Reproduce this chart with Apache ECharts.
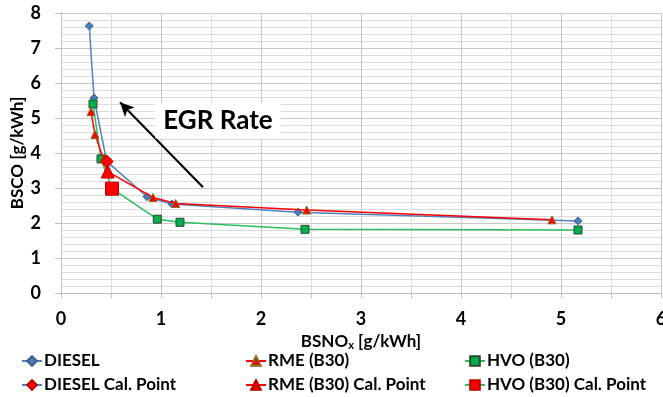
<!DOCTYPE html>
<html><head><meta charset="utf-8">
<script src="https://cdn.jsdelivr.net/npm/echarts@6/dist/echarts.min.js"></script>
<style>html,body{margin:0;padding:0;background:#fff}#c{width:663px;height:397px}</style>
</head><body><div id="c"></div>
<script>
const dieselX = [0.283, 0.33, 0.457, 0.86, 1.11, 2.37, 5.17];
const dieselY = [7.63, 5.57, 3.76, 2.75, 2.54, 2.31, 2.06];
const rmeX = [0.30, 0.34, 0.467, 0.92, 1.147, 2.457, 4.91];
const rmeY = [5.18, 4.53, 3.47, 2.73, 2.56, 2.37, 2.09];
const hvoX = [0.32, 0.40, 0.51, 0.963, 1.19, 2.44, 5.17];
const hvoY = [5.40, 3.83, 2.98, 2.11, 2.02, 1.82, 1.80];
const dieselCal = [0.457, 3.76];
const rmeCal = [0.467, 3.47];
const hvoCal = [0.51, 2.98];
const arrowFrom = [1.42, 3.02];
const arrowTo = [0.59, 5.45];
const egrLabelAt = [1.57, 4.93];
const seriesNames = ['DIESEL','DIESEL Cal. Point','RME (B30)','RME (B30) Cal. Point','HVO (B30)','HVO (B30) Cal. Point'];

const zip = (xs, ys) => xs.map((x, i) => [x, ys[i]]);
const FONT = 'Lato';
const BLUE = '#4F81BD', RED = '#FF0000', GREEN = '#2EBD5A';

const chart = echarts.init(document.getElementById('c'));
const legendBase = {
  orient: 'vertical', top: 351, itemWidth: 20, itemHeight: 12, itemGap: 4,
  textStyle: { fontFamily: FONT, fontWeight: 'bold', fontSize: 17, color: '#000', lineHeight: 20, padding: [0,0,0,-3] },
  padding: 0
};
chart.setOption({
  animation: false,
  grid: { left: 61, right: 2, top: 13, bottom: 104, containLabel: false, outerBoundsMode: 'none' },
  legend: [
    Object.assign({}, legendBase, { left: 21, data: [seriesNames[0], seriesNames[1]] }),
    Object.assign({}, legendBase, { left: 245, data: [seriesNames[2], seriesNames[3]] }),
    Object.assign({}, legendBase, { left: 464, data: [seriesNames[4], seriesNames[5]] })
  ],
  xAxis: {
    type: 'value', min: 0, max: 6, interval: 1,
    name: '{a|BSNO}{s|x}{a| [g/kWh]}', nameLocation: 'middle', nameGap: 39, nameMoveOverlap: false,
    nameTextStyle: { rich: {
      a: { fontFamily: FONT, fontWeight: 'bold', fontSize: 17, color: '#000' },
      s: { fontFamily: FONT, fontWeight: 'bold', fontSize: 11, color: '#000', padding: [8,0,0,0] }
    } },
    axisLine: { show: true, lineStyle: { color: '#BFBFBF' } },
    axisTick: { show: true, length: 5, lineStyle: { color: '#BFBFBF' } },
    minorTick: { show: true, splitNumber: 2, length: 5, lineStyle: { color: '#BFBFBF' } },
    axisLabel: { fontFamily: FONT, fontWeight: 'bold', fontSize: 18, color: '#000', margin: 17 },
    splitLine: { show: true, lineStyle: { color: '#C8C8C8' } },
    minorSplitLine: { show: true, lineStyle: { color: '#DCDCDC' } }
  },
  yAxis: {
    type: 'value', min: 0, max: 8, interval: 1,
    name: 'BSCO [g/kWh]', nameLocation: 'middle', nameGap: 35, nameMoveOverlap: false,
    nameTextStyle: { fontFamily: FONT, fontWeight: 'bold', fontSize: 17, color: '#000' },
    axisLine: { show: true, lineStyle: { color: '#BFBFBF' } },
    axisTick: { show: true, length: 6, lineStyle: { color: '#BFBFBF' } },
    axisLabel: { fontFamily: FONT, fontWeight: 'bold', fontSize: 18, color: '#000', margin: 20 },
    splitLine: { show: true, lineStyle: { color: '#C8C8C8' } },
    minorTick: { show: false, splitNumber: 5 },
    minorSplitLine: { show: true, lineStyle: { color: '#DCDCDC' } }
  },
  series: [
    { name: seriesNames[0], type: 'line', data: zip(dieselX, dieselY), symbol: 'diamond', symbolSize: 8,
      lineStyle: { color: BLUE, width: 1.5 }, itemStyle: { color: '#4A7EBB', borderColor: '#385D8A', borderWidth: 1 }, z: 3,
      markLine: { silent: true, symbol: ['none', 'arrow'], symbolSize: [10, 14],
        lineStyle: { color: '#000', width: 2, type: 'solid' }, label: { show: false },
        data: [[{ coord: arrowFrom }, { coord: arrowTo }]] },
      markPoint: { silent: true, symbol: 'rect', symbolSize: 0,
        data: [{ coord: egrLabelAt, value: 'EGR Rate' }],
        label: { show: true, formatter: 'EGR Rate', fontFamily: FONT, fontWeight: 'bold', fontSize: 26, color: '#000',
          backgroundColor: '#fff', padding: [5, 8, 5, 8] } } },
    { name: seriesNames[2], type: 'line', data: zip(rmeX, rmeY), symbol: 'triangle', symbolSize: 8,
      lineStyle: { color: RED, width: 1.5 }, itemStyle: { color: RED, borderColor: '#8A6A20', borderWidth: 1 }, z: 4 },
    { name: seriesNames[4], type: 'line', data: zip(hvoX, hvoY), symbol: 'rect', symbolSize: 8,
      lineStyle: { color: GREEN, width: 1.5 }, itemStyle: { color: '#00B050', borderColor: '#2A4A2A', borderWidth: 1 }, z: 3 },
    { name: seriesNames[1], type: 'line', data: [dieselCal], symbol: 'diamond', symbolSize: 13,
      lineStyle: { color: BLUE, width: 1.5 }, itemStyle: { color: RED, borderColor: '#C00000', borderWidth: 1 }, z: 6 },
    { name: seriesNames[3], type: 'line', data: [rmeCal], symbol: 'triangle', symbolSize: 13,
      lineStyle: { color: RED, width: 1.5 }, itemStyle: { color: RED, borderColor: '#C00000', borderWidth: 1 }, z: 6 },
    { name: seriesNames[5], type: 'line', data: [hvoCal], symbol: 'rect', symbolSize: 13,
      lineStyle: { color: GREEN, width: 1.5 }, itemStyle: { color: RED, borderColor: '#C00000', borderWidth: 1 }, z: 6 }
  ]
});
</script></body></html>
